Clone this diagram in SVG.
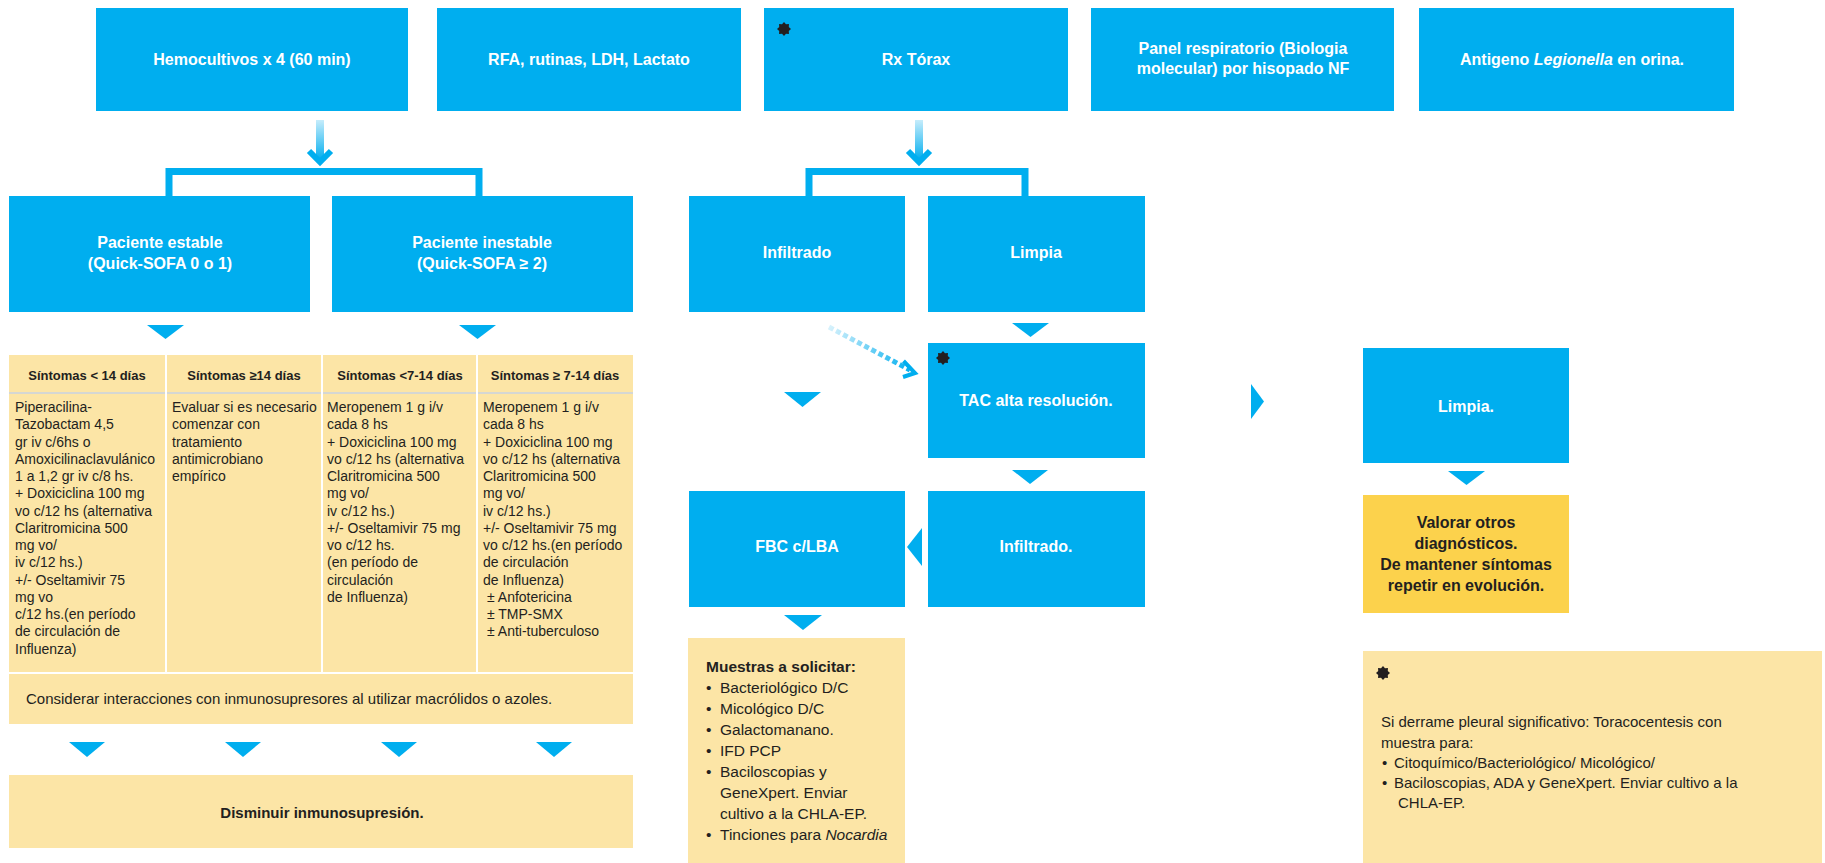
<svg xmlns="http://www.w3.org/2000/svg" width="1825" height="863" viewBox="0 0 1825 863">
<style>
.blue{fill:#00AEEF}
.ly{fill:#FCE5A6}
.dy{fill:#FCD24C}
.wt{font-family:"Liberation Sans",Arial,sans-serif;font-size:16px;font-weight:bold;fill:#ffffff;text-anchor:middle}
.hd{font-family:"Liberation Sans",Arial,sans-serif;font-size:13px;font-weight:bold;fill:#231F20;text-anchor:middle}
.bd{font-family:"Liberation Sans",Arial,sans-serif;font-size:14px;fill:#231F20}
.tx{font-family:"Liberation Sans",Arial,sans-serif;font-size:15px;fill:#231F20}
.tb{font-family:"Liberation Sans",Arial,sans-serif;font-size:15px;font-weight:bold;fill:#231F20;text-anchor:middle}
.ms{font-family:"Liberation Sans",Arial,sans-serif;font-size:15.5px;fill:#231F20}
.vl{font-family:"Liberation Sans",Arial,sans-serif;font-size:16px;font-weight:bold;fill:#231F20;text-anchor:middle}
.tri{fill:#00AEEF}
.brk{fill:none;stroke:#00AEEF;stroke-width:7}
.stem{fill:url(#stemg)}
.head{fill:none;stroke:#00AEEF;stroke-width:6;stroke-linejoin:miter}
.sep{stroke:#ffffff;stroke-width:2}
</style>
<defs>
<linearGradient id="stemg" x1="0" y1="0" x2="0" y2="1">
<stop offset="0" stop-color="#c6ecfb"/>
<stop offset="1" stop-color="#00AEEF"/>
</linearGradient>
<linearGradient id="dotg" gradientUnits="userSpaceOnUse" x1="829" y1="327" x2="912" y2="371">
<stop offset="0" stop-color="#d8f2fc"/>
<stop offset="1" stop-color="#00AEEF"/>
</linearGradient>
<polygon id="star" points="7,0 4.8,1.99 4.95,4.95 1.99,4.8 0,7 -1.99,4.8 -4.95,4.95 -4.8,1.99 -7,0 -4.8,-1.99 -4.95,-4.95 -1.99,-4.8 0,-7 1.99,-4.8 4.95,-4.95 4.8,-1.99" fill="#231F20"/>
</defs>
<rect width="1825" height="863" fill="#ffffff"/>

<g id="connectors">
<rect class="stem" x="316" y="120" width="8" height="40"/>
<polyline class="head" points="309,151 320,162 331,151"/>
<path class="brk" d="M169,197 V171.5 H479 V197"/>
<rect class="stem" x="915" y="120" width="8" height="40"/>
<polyline class="head" points="908,151 919,162 930,151"/>
<path class="brk" d="M809,197 V171.5 H1025 V197"/>
<polygon class="tri" points="147,325 184,325 165.5,339"/>
<polygon class="tri" points="459,325 496,325 477.5,339"/>
<polygon class="tri" points="1012,323 1049,323 1030.5,337"/>
<polygon class="tri" points="784,392 821,392 802.5,407"/>
<polygon class="tri" points="1012,470 1048,470 1030,484"/>
<polygon class="tri" points="784,615 822,615 803,630"/>
<polygon class="tri" points="1448,471 1485,471 1466.5,485"/>
<polygon class="tri" points="69,742 105,742 87,757"/>
<polygon class="tri" points="225,742 261,742 243,757"/>
<polygon class="tri" points="381,742 417,742 399,757"/>
<polygon class="tri" points="536,742 572,742 554,757"/>
<polygon class="tri" points="922,528 907,547 922,566"/>
<polygon class="tri" points="1251,384 1264,401.5 1251,419"/>
<line x1="829" y1="327" x2="910" y2="370" stroke="url(#dotg)" stroke-width="5" stroke-dasharray="5 3"/>
<polyline points="903.5,361 915,373 903,377" fill="none" stroke="#00AEEF" stroke-width="4"/>
</g>

<g id="n-hemocultivos">
<rect class="blue" x="96" y="8" width="312" height="103"/>
<text class="wt" x="252" y="65">Hemocultivos x 4 (60 min)</text>
</g>
<g id="n-rfa">
<rect class="blue" x="437" y="8" width="304" height="103"/>
<text class="wt" x="589" y="65">RFA, rutinas, LDH, Lactato</text>
</g>
<g id="n-rx">
<rect class="blue" x="764" y="8" width="304" height="103"/>
<use href="#star" x="784" y="29"/>
<text class="wt" x="916" y="65">Rx Tórax</text>
</g>
<g id="n-panel">
<rect class="blue" x="1091" y="8" width="303" height="103"/>
<text class="wt" x="1243" y="54">Panel respiratorio (Biologia</text>
<text class="wt" x="1243" y="74">molecular) por hisopado NF</text>
</g>
<g id="n-antigeno">
<rect class="blue" x="1419" y="8" width="315" height="103"/>
<text class="wt" x="1572" y="65">Antigeno <tspan font-style="italic">Legionella</tspan> en orina.</text>
</g>

<g id="n-estable">
<rect class="blue" x="9" y="196" width="301" height="116"/>
<text class="wt" x="160" y="248">Paciente estable</text>
<text class="wt" x="160" y="269">(Quick-SOFA 0 o 1)</text>
</g>
<g id="n-inestable">
<rect class="blue" x="332" y="196" width="301" height="116"/>
<text class="wt" x="482" y="248">Paciente inestable</text>
<text class="wt" x="482" y="269">(Quick-SOFA ≥ 2)</text>
</g>
<g id="n-infiltrado">
<rect class="blue" x="689" y="196" width="216" height="116"/>
<text class="wt" x="797" y="258">Infiltrado</text>
</g>
<g id="n-limpia">
<rect class="blue" x="928" y="196" width="217" height="116"/>
<text class="wt" x="1036" y="258">Limpia</text>
</g>
<g id="n-tac">
<rect class="blue" x="928" y="343" width="217" height="115"/>
<use href="#star" x="943" y="358"/>
<text class="wt" x="1036" y="406">TAC alta resolución.</text>
</g>
<g id="n-limpia2">
<rect class="blue" x="1363" y="348" width="206" height="115"/>
<text class="wt" x="1466" y="412">Limpia.</text>
</g>
<g id="n-valorar">
<rect class="dy" x="1363" y="495" width="206" height="118"/>
<text class="vl" x="1466" y="528">Valorar otros</text>
<text class="vl" x="1466" y="549">diagnósticos.</text>
<text class="vl" x="1466" y="570">De mantener síntomas</text>
<text class="vl" x="1466" y="591">repetir en evolución.</text>
</g>
<g id="n-fbc">
<rect class="blue" x="689" y="491" width="216" height="116"/>
<text class="wt" x="797" y="552">FBC c/LBA</text>
</g>
<g id="n-infiltrado2">
<rect class="blue" x="928" y="491" width="217" height="116"/>
<text class="wt" x="1036" y="552">Infiltrado.</text>
</g>
<g id="n-muestras">
<rect class="ly" x="688" y="638" width="217" height="225"/>
<text class="ms" x="706" y="672" font-weight="bold">Muestras a solicitar:</text>
<text class="ms" y="693"><tspan x="706">•</tspan><tspan x="720">Bacteriológico D/C</tspan></text>
<text class="ms" y="714"><tspan x="706">•</tspan><tspan x="720">Micológico D/C</tspan></text>
<text class="ms" y="735"><tspan x="706">•</tspan><tspan x="720">Galactomanano.</tspan></text>
<text class="ms" y="756"><tspan x="706">•</tspan><tspan x="720">IFD PCP</tspan></text>
<text class="ms" y="777"><tspan x="706">•</tspan><tspan x="720">Baciloscopias y</tspan></text>
<text class="ms" x="720" y="798">GeneXpert. Enviar</text>
<text class="ms" x="720" y="819">cultivo a la CHLA-EP.</text>
<text class="ms" y="840"><tspan x="706">•</tspan><tspan x="720">Tinciones para </tspan><tspan font-style="italic">Nocardia</tspan></text>
</g>

<g id="n-tabla">
<rect class="ly" x="9" y="355" width="624" height="317"/>
<line x1="9" y1="393" x2="633" y2="393" stroke="#c9d2e2" stroke-width="1.5"/>
<line class="sep" x1="166" y1="355" x2="166" y2="672"/>
<line class="sep" x1="322" y1="355" x2="322" y2="672"/>
<line class="sep" x1="477" y1="355" x2="477" y2="672"/>
<text class="hd" x="87" y="380">Síntomas &lt; 14 días</text>
<text class="hd" x="244" y="380">Síntomas ≥14 días</text>
<text class="hd" x="400" y="380">Síntomas &lt;7-14 días</text>
<text class="hd" x="555" y="380">Síntomas ≥ 7-14 días</text>
<text class="bd">
<tspan x="15" y="412">Piperacilina-</tspan>
<tspan x="15" y="429.25">Tazobactam 4,5</tspan>
<tspan x="15" y="446.5">gr iv c/6hs o</tspan>
<tspan x="15" y="463.75">Amoxicilinaclavulánico</tspan>
<tspan x="15" y="481">1 a 1,2 gr iv c/8 hs.</tspan>
<tspan x="15" y="498.25">+ Doxiciclina 100 mg</tspan>
<tspan x="15" y="515.5">vo c/12 hs (alternativa</tspan>
<tspan x="15" y="532.75">Claritromicina 500</tspan>
<tspan x="15" y="550">mg vo/</tspan>
<tspan x="15" y="567.25">iv c/12 hs.)</tspan>
<tspan x="15" y="584.5">+/- Oseltamivir 75</tspan>
<tspan x="15" y="601.75">mg vo</tspan>
<tspan x="15" y="619">c/12 hs.(en período</tspan>
<tspan x="15" y="636.25">de circulación de</tspan>
<tspan x="15" y="653.5">Influenza)</tspan>
</text>
<text class="bd">
<tspan x="172" y="412">Evaluar si es necesario</tspan>
<tspan x="172" y="429.25">comenzar con</tspan>
<tspan x="172" y="446.5">tratamiento</tspan>
<tspan x="172" y="463.75">antimicrobiano</tspan>
<tspan x="172" y="481">empírico</tspan>
</text>
<text class="bd">
<tspan x="327" y="412">Meropenem 1 g i/v</tspan>
<tspan x="327" y="429.25">cada 8 hs</tspan>
<tspan x="327" y="446.5">+ Doxiciclina 100 mg</tspan>
<tspan x="327" y="463.75">vo c/12 hs (alternativa</tspan>
<tspan x="327" y="481">Claritromicina 500</tspan>
<tspan x="327" y="498.25">mg vo/</tspan>
<tspan x="327" y="515.5">iv c/12 hs.)</tspan>
<tspan x="327" y="532.75">+/- Oseltamivir 75 mg</tspan>
<tspan x="327" y="550">vo c/12 hs.</tspan>
<tspan x="327" y="567.25">(en período de</tspan>
<tspan x="327" y="584.5">circulación</tspan>
<tspan x="327" y="601.75">de Influenza)</tspan>
</text>
<text class="bd">
<tspan x="483" y="412">Meropenem 1 g i/v</tspan>
<tspan x="483" y="429.25">cada 8 hs</tspan>
<tspan x="483" y="446.5">+ Doxiciclina 100 mg</tspan>
<tspan x="483" y="463.75">vo c/12 hs (alternativa</tspan>
<tspan x="483" y="481">Claritromicina 500</tspan>
<tspan x="483" y="498.25">mg vo/</tspan>
<tspan x="483" y="515.5">iv c/12 hs.)</tspan>
<tspan x="483" y="532.75">+/- Oseltamivir 75 mg</tspan>
<tspan x="483" y="550">vo c/12 hs.(en período</tspan>
<tspan x="483" y="567.25">de circulación</tspan>
<tspan x="483" y="584.5">de Influenza)</tspan>
<tspan x="487" y="601.75">± Anfotericina</tspan>
<tspan x="487" y="619">± TMP-SMX</tspan>
<tspan x="487" y="636.25">± Anti-tuberculoso</tspan>
</text>
</g>
<g id="n-considerar">
<rect class="ly" x="9" y="674" width="624" height="50"/>
<text class="tx" x="26" y="704">Considerar interacciones con inmunosupresores al utilizar macrólidos o azoles.</text>
</g>
<g id="n-disminuir">
<rect class="ly" x="9" y="775" width="624" height="73"/>
<text class="tb" x="322" y="818">Disminuir inmunosupresión.</text>
</g>
<g id="n-nota">
<rect class="ly" x="1363" y="651" width="459" height="212"/>
<use href="#star" x="1383" y="673"/>
<text class="tx" x="1381" y="727">Si derrame pleural significativo: Toracocentesis con</text>
<text class="tx" x="1381" y="748">muestra para:</text>
<text class="tx" y="768"><tspan x="1382">•</tspan><tspan x="1394">Citoquímico/Bacteriológico/ Micológico/</tspan></text>
<text class="tx" y="788"><tspan x="1382">•</tspan><tspan x="1394">Baciloscopias, ADA y GeneXpert. Enviar cultivo a la</tspan></text>
<text class="tx" x="1398" y="808">CHLA-EP.</text>
</g>
</svg>
